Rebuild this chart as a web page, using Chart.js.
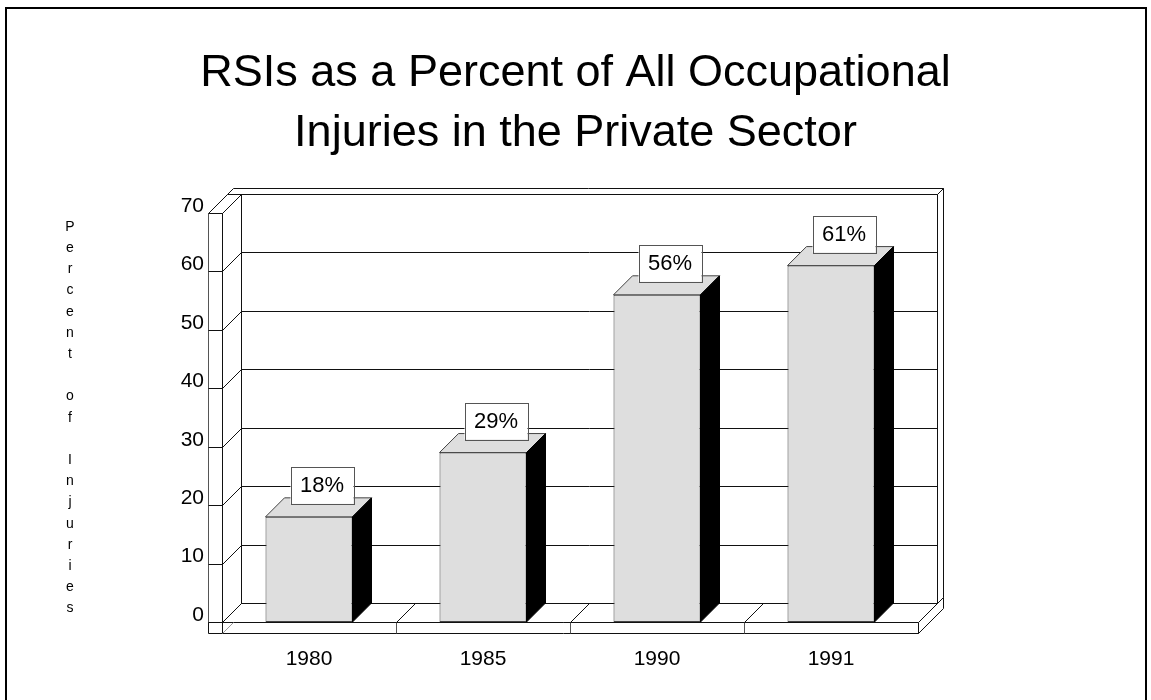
<!DOCTYPE html>
<html lang="en">

<head>
    <meta charset="UTF-8">
    <title>RSIs as a Percent of All Occupational Injuries</title>
    <style>
        body { margin: 0; background: #fff; }
        canvas { display: block; }
    </style>
</head>

<body>
    <canvas id="rsi" width="1151" height="700"></canvas>

    <script src="https://cdn.jsdelivr.net/npm/chart.js@4.4.7/dist/chart.umd.min.js"></script>
    <script>
        // data
        const years = ['1980', '1985', '1990', '1991'];
        const rsiPercent = [18, 29, 56, 61];
        const yTicks = [0, 10, 20, 30, 40, 50, 60, 70];
        const titleLines = ['RSIs as a Percent of All Occupational', 'Injuries in the Private Sector'];
        const yTitle = 'Percent of Injuries';

        const FONT = "'Liberation Sans', Arial, Helvetica, sans-serif";
        const DEPTH = 19;   // oblique depth of the floor / bars
        const SLAB = 6;     // thickness of the back wall
        const SIDE = 14;    // thickness of the left wall
        const FLOOR = 11;   // thickness of the floor

        function poly(ctx, pts, fill, stroke) {
            ctx.beginPath();
            ctx.moveTo(pts[0][0], pts[0][1]);
            for (let i = 1; i < pts.length; i++) ctx.lineTo(pts[i][0], pts[i][1]);
            ctx.closePath();
            if (fill) { ctx.fillStyle = fill; ctx.fill(); }
            if (stroke) { ctx.strokeStyle = stroke; ctx.stroke(); }
        }

        function line(ctx, x1, y1, x2, y2, color) {
            ctx.beginPath();
            ctx.moveTo(x1, y1);
            ctx.lineTo(x2, y2);
            ctx.strokeStyle = color;
            ctx.stroke();
        }

        // walls, floor and grid of the box
        const boxPlugin = {
            id: 'box3d',
            beforeDraw(chart) {
                const ctx = chart.ctx;
                ctx.save();
                ctx.lineWidth = 2;
                ctx.strokeStyle = '#000';
                ctx.strokeRect(6, 8, 1140, 720);
                ctx.restore();
            },
            beforeDatasetsDraw(chart) {
                const ctx = chart.ctx;
                const ys = chart.scales.y, xs = chart.scales.x;
                const L = Math.round(chart.chartArea.left) + 0.5;
                const R = Math.round(chart.chartArea.right) + 0.5;
                const Y0 = Math.round(ys.getPixelForValue(0)) + 0.5;
                const YT = Math.round(ys.getPixelForValue(70)) + 0.5;
                const D = DEPTH, S = SLAB, B = D + S;
                const dark = '#111', mid = '#555';
                ctx.save();
                ctx.lineWidth = 1;

                // back wall slab
                poly(ctx, [[L + D, YT - D], [R + D, YT - D], [R + D, Y0 - D], [L + D, Y0 - D]], '#fff', dark);
                poly(ctx, [[L - SIDE + D, YT - D], [L - SIDE + B, YT - B], [R + B, YT - B], [R + D, YT - D]], '#fff', dark);
                poly(ctx, [[R + D, YT - D], [R + B, YT - B], [R + B, Y0 - B], [R + D, Y0 - D]], '#fff', dark);

                // left wall slab
                poly(ctx, [[L, YT], [L + D, YT - D], [L + D, Y0 - D], [L, Y0]], '#fff', dark);
                poly(ctx, [[L - SIDE, YT], [L, YT], [L + D, YT - D], [L - SIDE + D, YT - D]], '#fff', dark);
                poly(ctx, [[L - SIDE, YT], [L, YT], [L, Y0], [L - SIDE, Y0]], '#fff', mid);

                // floor slab
                poly(ctx, [[L, Y0], [R, Y0], [R + D, Y0 - D], [L + D, Y0 - D]], '#fff', dark);
                poly(ctx, [[L - SIDE, Y0], [R, Y0], [R, Y0 + FLOOR], [L - SIDE, Y0 + FLOOR]], '#fff', dark);
                poly(ctx, [[R, Y0], [R + B, Y0 - B], [R + B, Y0 + FLOOR - B], [R, Y0 + FLOOR]], '#fff', dark);
                line(ctx, L, Y0, L, Y0 + FLOOR, dark);
                line(ctx, L, Y0 + FLOOR, L + FLOOR, Y0, '#999');

                // grid lines on the back wall and the left wall
                ys.ticks.forEach(t => {
                    const y = Math.round(ys.getPixelForValue(t.value)) + 0.5;
                    line(ctx, L + D, y - D, R + D, y - D, dark);
                    line(ctx, L, y, L + D, y - D, dark);
                    line(ctx, L - SIDE, y, L, y, dark);
                });
                line(ctx, L, YT, L, Y0, dark);

                // category dividers on the floor
                for (let i = 0; i < years.length - 1; i++) {
                    const x = Math.round((xs.getPixelForValue(i) + xs.getPixelForValue(i + 1)) / 2) + 0.5;
                    line(ctx, x, Y0, x, Y0 + FLOOR, mid);
                    line(ctx, x, Y0, x + D, Y0 - D, dark);
                }

                // stacked axis title
                ctx.fillStyle = '#000';
                ctx.font = '14px ' + FONT;
                ctx.textAlign = 'center';
                ctx.textBaseline = 'middle';
                yTitle.split('').forEach((ch, i) => {
                    ctx.fillText(ch, 70, 227 + i * 21.2);
                });
                ctx.restore();
            },
            afterDatasetsDraw(chart) {
                const ctx = chart.ctx;
                const meta = chart.getDatasetMeta(0);
                const D = DEPTH;
                ctx.save();
                ctx.lineWidth = 1;
                meta.data.forEach((bar, i) => {
                    const half = bar.width / 2;
                    const xl = bar.x - half, xr = bar.x + half;
                    const yt = bar.y, yb = bar.base;
                    // top and right side of each bar
                    poly(ctx, [[xl, yt], [xr, yt], [xr + D, yt - D], [xl + D, yt - D]], '#dedede', '#444');
                    poly(ctx, [[xr, yt], [xr + D, yt - D], [xr + D, yb - D], [xr, yb]], '#000', '#000');

                    // value box
                    const w = 63, h = 37;
                    const cx = bar.x + 13;
                    const top = yt - 50;
                    ctx.fillStyle = '#fff';
                    ctx.fillRect(cx - w / 2, top, w, h);
                    ctx.strokeStyle = '#555';
                    ctx.strokeRect(Math.round(cx - w / 2) + 0.5, Math.round(top) + 0.5, w, h);
                    ctx.fillStyle = '#000';
                    ctx.font = '22px ' + FONT;
                    ctx.textAlign = 'center';
                    ctx.textBaseline = 'middle';
                    ctx.fillText(rsiPercent[i] + '%', cx, top + h / 2 + 1);
                });
                ctx.restore();
            }
        };

        new Chart(document.getElementById('rsi'), {
            type: 'bar',
            data: {
                labels: years,
                datasets: [{
                    data: rsiPercent,
                    backgroundColor: '#dedede',
                    borderColor: '#444',
                    borderWidth: 1,
                    borderSkipped: false,
                    barPercentage: 0.5,
                    categoryPercentage: 1
                }]
            },
            plugins: [boxPlugin],
            options: {
                responsive: false,
                animation: false,
                devicePixelRatio: 1,
                layout: { padding: 0 },
                plugins: {
                    legend: { display: false },
                    tooltip: { enabled: false },
                    title: {
                        display: true,
                        text: titleLines,
                        color: '#000',
                        font: { family: FONT, size: 45, weight: 'normal', lineHeight: '60px' },
                        padding: { top: 44, bottom: 49 }
                    }
                },
                scales: {
                    x: {
                        grid: { display: false, drawTicks: false },
                        border: { display: false },
                        ticks: { color: '#000', padding: 25, font: { family: FONT, size: 21 } },
                        afterFit(scale) { scale.height = 78; }
                    },
                    y: {
                        min: yTicks[0],
                        max: yTicks[yTicks.length - 1],
                        afterBuildTicks(scale) { scale.ticks = yTicks.map(v => ({ value: v })); },
                        grid: { display: false, drawTicks: false },
                        border: { display: false },
                        ticks: { color: '#000', padding: 18, labelOffset: -7, font: { family: FONT, size: 21 } },
                        afterFit(scale) { scale.width = 222; }
                    },
                    // empty margin on the right, keeps the title centred on the page
                    side: {
                        position: 'right',
                        grid: { display: false, drawTicks: false },
                        border: { display: false },
                        ticks: { display: false },
                        afterFit(scale) { scale.width = 233; }
                    }
                }
            }
        });
    </script>
</body>

</html>
